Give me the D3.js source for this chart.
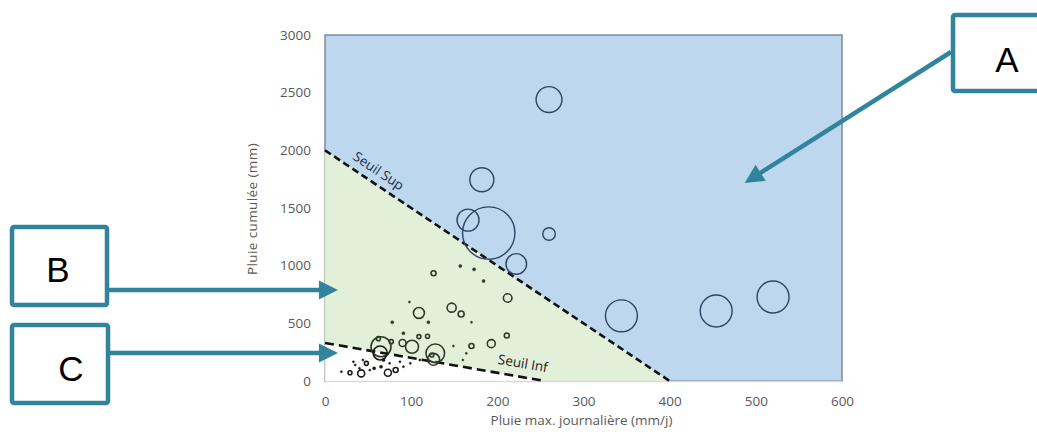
<!DOCTYPE html>
<html><head><meta charset="utf-8">
<script src="https://cdn.jsdelivr.net/npm/d3@7"></script>
<style>
body{margin:0;background:#fff;}
svg{display:block;}
</style></head>
<body><svg id="c" width="1037" height="437"></svg>
<script>
// ---- data ----
const xTicks = [0,100,200,300,400,500,600];
const yTicks = [0,500,1000,1500,2000,2500,3000];
const xTitle = "Pluie max. journalière (mm/j)";
const yTitle = "Pluie cumulée (mm)";
// bubbles: daily max rain, cumulated rain, event size
const pluieMax = [260,182,166,190,260,222,344,454,520,
  126,157,173,184,212,109,147,158,98,120,78,170,211,193,170,119,109,90,101,65,64,128,126,77,62,124,149,164,160,91,
  42,73,82,48,29,57,65,44,35,19,87,91,99,52,68,33,40,75,110];
const pluieCum = [2440,1745,1395,1283,1275,1015,565,607,728,
  934,997,968,867,720,590,636,581,685,509,509,509,395,324,303,388,385,330,297,297,243,240,188,341,367,225,303,240,182,414,
  66,72,95,153,72,110,124,182,139,81,167,124,153,95,182,167,110,153,182];
const taille = [23,19.8,16.6,94,5.4,14.6,35,35,35,
  0.86,0.31,0.31,0.31,2.5,4.1,2.8,1.23,0.14,0.3,0.3,0.14,0.86,2.2,0.86,0.55,0.55,1.68,5.8,13.7,6.7,11.9,4.9,0.55,0.55,0.55,0.14,0.14,0.14,0.31,
  1.68,1.68,0.86,0.55,0.55,0.31,0.31,0.14,0.14,0.14,0.14,0.14,0.14,0.14,0.31,0.14,0.14,0.14,0.14];
const seuilSup = [[0,2000],[400,0]];
const seuilInf = [[0,330],[255,0]];
const labels = ["A","B","C"];
const arrowTips = [[487,1717],[15,790],[15,243]];

// ---- chart ----
const svg = d3.select("#c");
const x = d3.scaleLinear().domain([0,600]).range([325,842]);
const y = d3.scaleLinear().domain([0,3000]).range([381,35]);
const r = d3.scaleSqrt().domain([0,100]).range([0,27]);

const blue="#bdd7ee", green="#e2efd9", teal="#31849b";
// region A
svg.append("rect").attr("x",x(0)).attr("y",y(3000)).attr("width",x(600)-x(0)).attr("height",y(0)-y(3000))
  .attr("fill",blue).attr("stroke","#7d8ba0").attr("stroke-width",1.5);
const line = d3.line().x(d=>x(d[0])).y(d=>y(d[1]));
// region B
svg.append("path").attr("d", line([[0,0],...seuilSup])+"Z").attr("fill",green);
// region C
svg.append("path").attr("d", line([[0,0],...seuilInf])+"Z").attr("fill","#fff");
// bottom axis line
svg.append("line").attr("x1",x(0)).attr("x2",x(600)).attr("y1",y(0)+0.5).attr("y2",y(0)+0.5)
  .attr("stroke","#d9d9d9").attr("stroke-width",1.5);
svg.append("line").attr("x1",x(0)).attr("x2",x(0)).attr("y1",y(0)).attr("y2",y(2000))
  .attr("stroke","#d9e4cf").attr("stroke-width",1);

// thresholds
svg.append("path").attr("d",line(seuilSup)).attr("fill","none").attr("stroke","#111")
  .attr("stroke-width",2.6).attr("stroke-dasharray","7,4");
svg.append("path").attr("d",line(seuilInf)).attr("fill","none").attr("stroke","#111")
  .attr("stroke-width",2.6).attr("stroke-dasharray","9,5");

// bubbles
const pts = pluieMax.map((v,i)=>({x:v,y:pluieCum[i],s:taille[i]}));
function region(d){
  if (d.y > 2000 - 5*d.x) return "A";
  if (d.y > 330*(1 - d.x/255)) return "B";
  return "C";
}
const strokeCol = {A:"#2e4466",B:"#2f3b2a",C:"#1a1a1a"};
svg.append("g").selectAll("circle").data(pts).join("circle")
  .attr("cx",d=>x(d.x)).attr("cy",d=>y(d.y)).attr("r",d=>r(d.s))
  .attr("fill",d=> r(d.s)<1.8 ? strokeCol[region(d)] : "none")
  .attr("stroke",d=>strokeCol[region(d)])
  .attr("stroke-width",d=> r(d.s)<1.8 ? 0.6 : (region(d)==="A"?1.4:1.6));

// threshold labels
function lineLabel(seg, t, off, text, fs, col){
  const p0=[x(seg[0][0]),y(seg[0][1])], p1=[x(seg[1][0]),y(seg[1][1])];
  const ang=Math.atan2(p1[1]-p0[1],p1[0]-p0[0]);
  const px=p0[0]+(p1[0]-p0[0])*t, py=p0[1]+(p1[1]-p0[1])*t;
  const nx=Math.sin(ang)*off, ny=-Math.cos(ang)*off;
  svg.append("text").attr("transform",`translate(${px+nx},${py+ny}) rotate(${ang*180/Math.PI})`)
    .attr("text-anchor","middle").attr("font-family","Open Sans, sans-serif").attr("font-size",fs)
    .attr("fill",col).text(text);
}
lineLabel(seuilSup,0.135,8,"Seuil Sup",13.5,"#1f2d4d");
lineLabel(seuilInf,0.89,9,"Seuil Inf",13.5,"#222");

// axes
const fontF="Open Sans, sans-serif";
const gx = svg.append("g").attr("transform",`translate(0,${y(0)})`)
  .call(d3.axisBottom(x).tickValues(xTicks).tickSize(0).tickPadding(15).tickFormat(d3.format("d")));
gx.select(".domain").remove();
gx.selectAll("text").attr("font-family",fontF).attr("font-size",13.5).attr("fill","#595959");
const gy = svg.append("g").attr("transform",`translate(${x(0)},0)`)
  .call(d3.axisLeft(y).tickValues(yTicks).tickSize(0).tickPadding(14).tickFormat(d3.format("d")));
gy.select(".domain").remove();
gy.selectAll("text").attr("font-family",fontF).attr("font-size",13.5).attr("fill","#595959");
svg.append("text").attr("x",(x(0)+x(600))/2 - 2).attr("y",425).attr("text-anchor","middle")
  .attr("font-family",fontF).attr("font-size",13.5).attr("fill","#595959").text(xTitle);
svg.append("text").attr("transform",`translate(257,${y(1500)+1}) rotate(-90)`).attr("text-anchor","middle")
  .attr("font-family",fontF).attr("font-size",13.5).attr("letter-spacing",0.4).attr("fill","#595959").text(yTitle);

// annotation boxes and arrows
const boxes = [{x:953,y:15,w:110,h:76,tx:1007,ty:72,start:[951,52]},
               {x:12,y:227,w:95,h:78,tx:58,ty:282,start:[107,290]},
               {x:12,y:325,w:96,h:78,tx:71,ty:381,start:[108,353]}];
boxes.forEach((b,i)=>{
  const tip=[x(arrowTips[i][0]),y(arrowTips[i][1])];
  const ang=Math.atan2(tip[1]-b.start[1],tip[0]-b.start[0]);
  const L=19, W=9.5;
  const bx=tip[0]-L*Math.cos(ang), by=tip[1]-L*Math.sin(ang);
  svg.append("line").attr("x1",b.start[0]).attr("y1",b.start[1]).attr("x2",bx+2*Math.cos(ang)).attr("y2",by+2*Math.sin(ang))
    .attr("stroke",teal).attr("stroke-width",4.5);
  const nx=-Math.sin(ang)*W, ny=Math.cos(ang)*W;
  svg.append("path").attr("d",`M${tip[0]},${tip[1]}L${bx+nx},${by+ny}L${bx-nx},${by-ny}Z`).attr("fill",teal);
  svg.append("rect").attr("x",b.x).attr("y",b.y).attr("width",b.w).attr("height",b.h).attr("rx",2)
    .attr("fill","#fff").attr("stroke",teal).attr("stroke-width",4.5);
  svg.append("text").attr("x",b.tx).attr("y",b.ty).attr("text-anchor","middle")
    .attr("font-family","Liberation Sans, Arial, sans-serif").attr("font-size",35).attr("fill","#000").text(labels[i]);
});
</script></body></html>
